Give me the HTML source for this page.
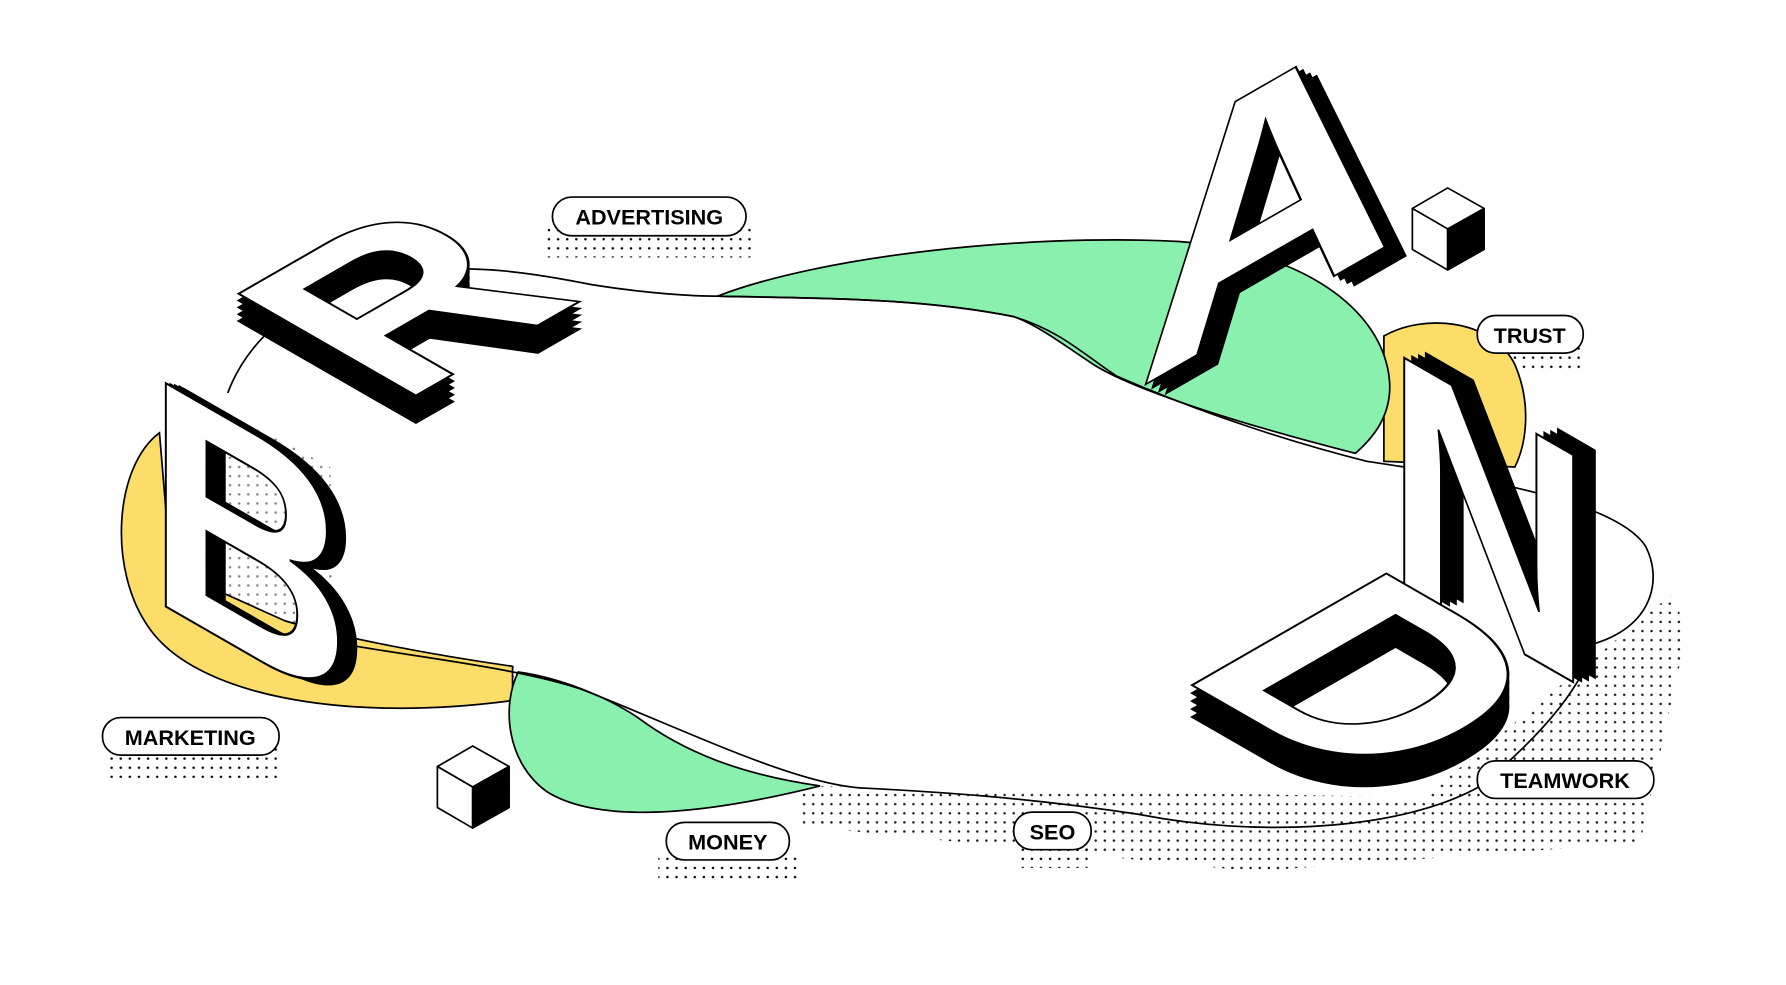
<!DOCTYPE html>
<html><head><meta charset="utf-8"><style>
html,body{margin:0;padding:0;background:#fff;width:1786px;height:985px;overflow:hidden}
svg{display:block}
.lbl{font-family:"Liberation Sans",sans-serif;font-weight:bold;font-size:19px;fill:#000}
.let{font-family:"Liberation Sans",sans-serif;font-weight:bold}
</style></head><body>
<svg width="1786" height="985" viewBox="0 0 1786 985" xmlns="http://www.w3.org/2000/svg">
<defs>
<pattern id="dots" width="8" height="8" patternUnits="userSpaceOnUse"><circle cx="2" cy="2" r="1.1" fill="#000"/></pattern>
</defs>
<g transform="scale(1.139)">
<rect x="478" y="200" width="185" height="26" fill="url(#dots)"/>
<rect x="1300" y="303" width="90" height="22" fill="url(#dots)"/>
<rect x="92" y="657" width="155" height="26" fill="url(#dots)"/>
<rect x="578" y="750" width="125" height="22" fill="url(#dots)"/>
<rect x="895" y="740" width="60" height="22" fill="url(#dots)"/>
<path d="M700 690 L1250 700 L1470 520 L1480 560 L1440 740 L1100 765 L700 725 Z" fill="url(#dots)" opacity="0.9"/>
<path d="M290 560 L450 585 L540 650 L470 620 L300 600 Z" fill="url(#dots)"/>
<path d="M140 330 L290 410 L295 580 L140 540 Z" fill="url(#dots)" opacity="0.5"/>
<path d="M140 380 C100 410 95 500 130 550 C170 610 300 635 450 615 L450 585 C380 575 300 560 250 545 L150 500 Z" fill="#fddd6a" stroke="#000" stroke-width="1.5"/>
<path d="M1215 295 C1250 275 1310 280 1330 320 C1345 355 1340 390 1330 410 L1215 405 Z" fill="#fddd6a" stroke="#000" stroke-width="1.5"/>
<path d="M630 260 C720 225 900 205 1035 212 C1140 220 1215 270 1220 335 C1222 365 1205 385 1190 398 C1100 375 1000 345 960 320 C930 300 910 285 890 278 C800 260 700 262 630 260 Z" fill="#8af0ae" stroke="#000" stroke-width="1.5"/>
<path d="M455 590 C440 620 445 670 480 695 C520 720 600 720 720 690 C650 680 600 660 560 630 C530 610 490 595 455 590 Z" fill="#8af0ae" stroke="#000" stroke-width="1.5"/>
<path d="M200 345 C220 290 280 245 360 238 C420 232 470 240 520 250 C570 258 610 260 630 260 C700 262 800 260 890 278 C930 290 950 310 980 330 C1060 365 1140 390 1200 405 C1300 420 1420 440 1445 480 C1460 510 1450 550 1400 565 C1390 600 1360 640 1300 690 C1230 730 1100 735 1000 715 C900 700 820 695 760 692 C700 690 600 640 510 605 C450 585 350 575 300 565" fill="none" stroke="#000" stroke-width="1.5"/>
<g fill="#fff" stroke="#000" stroke-width="1.5">
<rect x="485" y="173" width="170" height="34" rx="17"/>
<rect x="1297" y="277" width="93" height="33" rx="16"/>
<rect x="90" y="630" width="155" height="33" rx="16"/>
<rect x="585" y="722" width="108" height="33" rx="16"/>
<rect x="890" y="713" width="68" height="33" rx="16"/>
<rect x="1297" y="668" width="155" height="33" rx="16"/>
</g>
<text class="lbl" x="570" y="197" text-anchor="middle">ADVERTISING</text>
<text class="lbl" x="1343" y="301" text-anchor="middle">TRUST</text>
<text class="lbl" x="167" y="654" text-anchor="middle">MARKETING</text>
<text class="lbl" x="639" y="746" text-anchor="middle">MONEY</text>
<text class="lbl" x="924" y="737" text-anchor="middle">SEO</text>
<text class="lbl" x="1374" y="692" text-anchor="middle">TEAMWORK</text>
<g stroke="#000" stroke-width="1.5" stroke-linejoin="round">
<path d="M1240 183 L1271 165 L1303 183 L1271 201 Z" fill="#fff"/>
<path d="M1240 183 L1271 201 L1271 237 L1240 219 Z" fill="#fff"/>
<path d="M1271 201 L1303 183 L1303 219 L1271 237 Z" fill="#000"/>
<path d="M384 673 L415 655 L447 673 L415 691 Z" fill="#fff"/>
<path d="M384 673 L415 691 L415 727 L384 709 Z" fill="#fff"/>
<path d="M415 691 L447 673 L447 709 L415 727 Z" fill="#000"/>
</g>
<!-- B -->
<g class="let" font-size="285">
<g transform="translate(145,528) matrix(0.87,0.5,0,1,0,0)"><text fill="#000" stroke="#000" stroke-width="2">B</text></g>
<g transform="translate(141,526) matrix(0.87,0.5,0,1,0,0)"><text fill="#000" stroke="#000" stroke-width="2">B</text></g>
<g transform="translate(137,525) matrix(0.87,0.5,0,1,0,0)"><text fill="#000" stroke="#000" stroke-width="2">B</text></g>
<g transform="translate(133,524) matrix(0.87,0.5,0,1,0,0)"><text fill="#000" stroke="#000" stroke-width="2">B</text></g>
<g transform="translate(129,523) matrix(0.87,0.5,0,1,0,0)"><text fill="#fff" stroke="#000" stroke-width="2">B</text></g>
</g>
<!-- R -->
<g class="let" font-size="260">
<g transform="translate(350,380) matrix(0.87,-0.5,0.87,0.5,0,0)"><text fill="#000" stroke="#000" stroke-width="2">R</text></g>
<g transform="translate(350,374) matrix(0.87,-0.5,0.87,0.5,0,0)"><text fill="#000" stroke="#000" stroke-width="2">R</text></g>
<g transform="translate(350,368) matrix(0.87,-0.5,0.87,0.5,0,0)"><text fill="#000" stroke="#000" stroke-width="2">R</text></g>
<g transform="translate(350,362) matrix(0.87,-0.5,0.87,0.5,0,0)"><text fill="#000" stroke="#000" stroke-width="2">R</text></g>
<g transform="translate(350,356) matrix(0.87,-0.5,0.87,0.5,0,0)"><text fill="#fff" stroke="#000" stroke-width="2">R</text></g>
</g>
<!-- A -->
<g class="let" font-size="360">
<g transform="translate(1016,350) matrix(0.87,-0.5,0,0.82,0,0)"><text fill="#000" stroke="#000" stroke-width="2">A</text></g>
<g transform="translate(1010,348) matrix(0.87,-0.5,0,0.82,0,0)"><text fill="#000" stroke="#000" stroke-width="2">A</text></g>
<g transform="translate(1004,345) matrix(0.87,-0.5,0,0.82,0,0)"><text fill="#000" stroke="#000" stroke-width="2">A</text></g>
<g transform="translate(998,342) matrix(0.87,-0.5,0,0.82,0,0)"><text fill="#fff" stroke="#000" stroke-width="2">A</text></g>
</g>
<!-- N -->
<g class="let" font-size="290">
<g transform="translate(1235,500) matrix(0.87,0.5,0,1,0,0)"><text fill="#000" stroke="#000" stroke-width="2">N</text></g>
<g transform="translate(1229,502) matrix(0.87,0.5,0,1,0,0)"><text fill="#000" stroke="#000" stroke-width="2">N</text></g>
<g transform="translate(1223,503) matrix(0.87,0.5,0,1,0,0)"><text fill="#000" stroke="#000" stroke-width="2">N</text></g>
<g transform="translate(1216,504) matrix(0.87,0.5,0,1,0,0)"><text fill="#fff" stroke="#000" stroke-width="2">N</text></g>
</g>
<!-- D -->
<g class="let" font-size="285">
<g transform="translate(1030,620) matrix(0.87,0.5,0.87,-0.5,0,0)"><text fill="#000" stroke="#000" stroke-width="2" transform="scale(1,-1)">D</text></g>
<g transform="translate(1030,613) matrix(0.87,0.5,0.87,-0.5,0,0)"><text fill="#000" stroke="#000" stroke-width="2" transform="scale(1,-1)">D</text></g>
<g transform="translate(1030,606) matrix(0.87,0.5,0.87,-0.5,0,0)"><text fill="#000" stroke="#000" stroke-width="2" transform="scale(1,-1)">D</text></g>
<g transform="translate(1030,599) matrix(0.87,0.5,0.87,-0.5,0,0)"><text fill="#000" stroke="#000" stroke-width="2" transform="scale(1,-1)">D</text></g>
<g transform="translate(1030,592) matrix(0.87,0.5,0.87,-0.5,0,0)"><text fill="#fff" stroke="#000" stroke-width="2" transform="scale(1,-1)">D</text></g>
</g>
</g>
</svg>
</body></html>
